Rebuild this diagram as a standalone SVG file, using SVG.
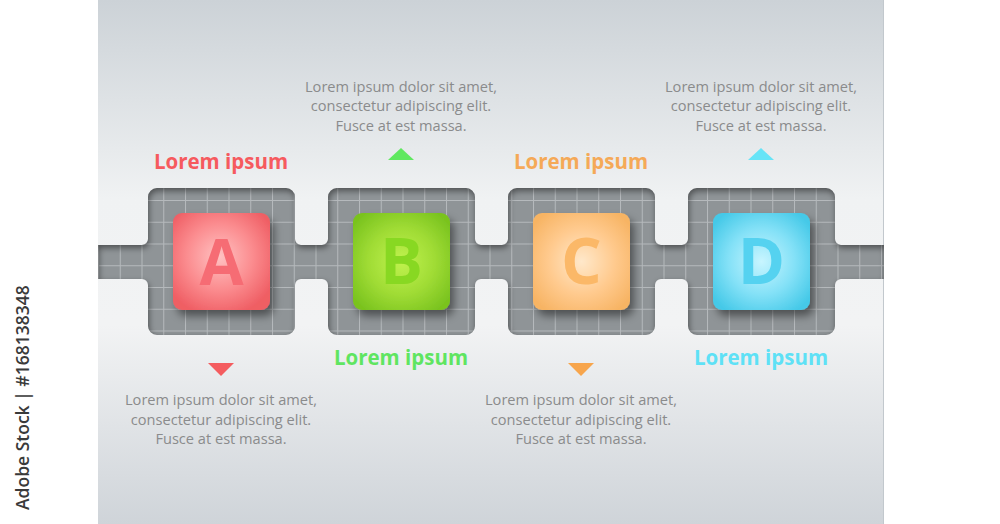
<svg xmlns="http://www.w3.org/2000/svg" width="1000" height="524" viewBox="0 0 1000 524">
<style>
.body{font-family:"Open Sans","Liberation Sans",sans-serif;font-size:14.6px;fill:#8a8b8c;text-anchor:middle}
.title{font-family:"Open Sans","Liberation Sans",sans-serif;font-size:20.5px;font-weight:bold;text-anchor:middle}
.letter{font-family:"Open Sans","Liberation Sans",sans-serif;font-size:64px;font-weight:bold;text-anchor:middle}
.tile{filter:url(#drop)}
</style>
<defs>
<linearGradient id="panel" x1="0" y1="0" x2="0" y2="1">
<stop offset="0" stop-color="#ccd2d7"/>
<stop offset="0.38" stop-color="#f0f2f3"/>
<stop offset="0.62" stop-color="#f2f3f4"/>
<stop offset="1" stop-color="#cfd4d9"/>
</linearGradient>
<pattern id="grid" x="98" y="200" width="21.75" height="21.75" patternUnits="userSpaceOnUse">
<path d="M0 0.5H21.75M0.5 0V21.75" stroke="#b5b9bc" stroke-width="1" fill="none"/>
</pattern>
<path id="trackShape" d="M98,245 H142 A6,6 0 0 0 148,239 V197 A9,9 0 0 1 157,188 H286 A9,9 0 0 1 295,197 V239 A6,6 0 0 0 301,245 H322 A6,6 0 0 0 328,239 V197 A9,9 0 0 1 337,188 H466 A9,9 0 0 1 475,197 V239 A6,6 0 0 0 481,245 H502 A6,6 0 0 0 508,239 V197 A9,9 0 0 1 517,188 H646 A9,9 0 0 1 655,197 V239 A6,6 0 0 0 661,245 H682 A6,6 0 0 0 688,239 V197 A9,9 0 0 1 697,188 H826 A9,9 0 0 1 835,197 V239 A6,6 0 0 0 841,245 H884 V279 H841 A6,6 0 0 0 835,285 V326 A9,9 0 0 1 826,335 H697 A9,9 0 0 1 688,326 V285 A6,6 0 0 0 682,279 H661 A6,6 0 0 0 655,285 V326 A9,9 0 0 1 646,335 H517 A9,9 0 0 1 508,326 V285 A6,6 0 0 0 502,279 H481 A6,6 0 0 0 475,285 V326 A9,9 0 0 1 466,335 H337 A9,9 0 0 1 328,326 V285 A6,6 0 0 0 322,279 H301 A6,6 0 0 0 295,285 V326 A9,9 0 0 1 286,335 H157 A9,9 0 0 1 148,326 V285 A6,6 0 0 0 142,279 H98 Z"/>
<filter id="inset" x="-5%" y="-20%" width="110%" height="140%">
<feOffset in="SourceAlpha" dx="1" dy="3"/>
<feGaussianBlur stdDeviation="3" result="ob"/>
<feComposite operator="out" in="SourceAlpha" in2="ob" result="inv"/>
<feFlood flood-color="#000" flood-opacity="0.45"/>
<feComposite operator="in" in2="inv"/>
</filter>
<filter id="drop" x="-20%" y="-20%" width="150%" height="150%">
<feDropShadow dx="4" dy="6" stdDeviation="4" flood-color="#000" flood-opacity="0.45"/>
</filter>
<radialGradient id="gA" cx="0.48" cy="0.45" r="0.62">
<stop offset="0" stop-color="#ffc2c2"/><stop offset="0.55" stop-color="#fb8c8f"/><stop offset="1" stop-color="#ef5e64"/>
</radialGradient>
<radialGradient id="gB" cx="0.5" cy="0.5" r="0.62">
<stop offset="0" stop-color="#c0f24e"/><stop offset="0.55" stop-color="#a0dc35"/><stop offset="1" stop-color="#7ac31f"/>
</radialGradient>
<radialGradient id="gC" cx="0.5" cy="0.5" r="0.62">
<stop offset="0" stop-color="#ffe8ca"/><stop offset="0.55" stop-color="#ffca8e"/><stop offset="1" stop-color="#f7b464"/>
</radialGradient>
<radialGradient id="gD" cx="0.5" cy="0.5" r="0.62">
<stop offset="0" stop-color="#c8f5ff"/><stop offset="0.55" stop-color="#84e1f7"/><stop offset="1" stop-color="#45c9e8"/>
</radialGradient>
</defs>

<rect x="0" y="0" width="1000" height="524" fill="#ffffff"/>
<rect x="98" y="0" width="786" height="524" fill="url(#panel)"/>
<line x1="883.5" y1="0" x2="883.5" y2="524" stroke="#c2c8cd" stroke-width="1"/>

<g id="track">
<use href="#trackShape" fill="#8f9497"/>
<use href="#trackShape" fill="url(#grid)"/>
<use href="#trackShape" fill="#000" filter="url(#inset)"/>
</g>

<g id="connectors"></g>

<g id="nodeA">
<rect class="tile" x="173" y="213" width="97" height="97" rx="9" fill="url(#gA)"/>
<text class="letter" x="221.5" y="285" fill="#f66c74">A</text>
<text class="title" x="221" y="169" fill="#f65a5e">Lorem ipsum</text>
<polygon points="208,363 234,363 221,376" fill="#f45c5f"/>
<text class="body" x="221" y="405">Lorem ipsum dolor sit amet,</text>
<text class="body" x="221" y="424.5">consectetur adipiscing elit.</text>
<text class="body" x="221" y="444">Fusce at est massa.</text>
</g>

<g id="nodeB">
<rect class="tile" x="353" y="213" width="97" height="97" rx="9" fill="url(#gB)"/>
<text class="letter" x="401.5" y="284" fill="#88d822">B</text>
<text class="title" x="401" y="365" fill="#5fe561">Lorem ipsum</text>
<polygon points="388,160 414,160 401,148" fill="#5fe85f"/>
<text class="body" x="401" y="91.5">Lorem ipsum dolor sit amet,</text>
<text class="body" x="401" y="111">consectetur adipiscing elit.</text>
<text class="body" x="401" y="130.5">Fusce at est massa.</text>
</g>

<g id="nodeC">
<rect class="tile" x="533" y="213" width="97" height="97" rx="9" fill="url(#gC)"/>
<text class="letter" x="581.5" y="284" fill="#fbb868">C</text>
<text class="title" x="581" y="169" fill="#f5a957">Lorem ipsum</text>
<polygon points="568,363 594,363 581,376" fill="#f7a54c"/>
<text class="body" x="581" y="405">Lorem ipsum dolor sit amet,</text>
<text class="body" x="581" y="424.5">consectetur adipiscing elit.</text>
<text class="body" x="581" y="444">Fusce at est massa.</text>
</g>

<g id="nodeD">
<rect class="tile" x="713" y="213" width="97" height="97" rx="9" fill="url(#gD)"/>
<text class="letter" x="761.5" y="284" fill="#55d2f0">D</text>
<text class="title" x="761" y="365" fill="#5ee1f6">Lorem ipsum</text>
<polygon points="748,160 774,160 761,148" fill="#66e4f7"/>
<text class="body" x="761" y="91.5">Lorem ipsum dolor sit amet,</text>
<text class="body" x="761" y="111">consectetur adipiscing elit.</text>
<text class="body" x="761" y="130.5">Fusce at est massa.</text>
</g>

<text x="28.5" y="510" transform="rotate(-90 28.5 510)" font-family="'Open Sans','Liberation Sans',sans-serif" font-size="17.5px" font-weight="600" fill="#3a3a3a">Adobe Stock | #168138348</text>
</svg>
